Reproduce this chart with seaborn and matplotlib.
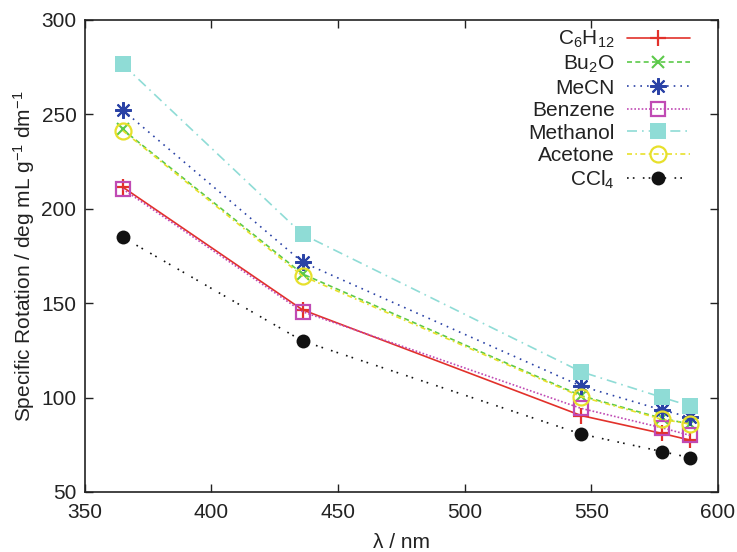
import matplotlib
matplotlib.use("Agg")
import matplotlib.pyplot as plt
import seaborn as sns
import pandas as pd

# Wavelengths (nm) and specific rotation in each solvent
wavelength = [365, 436, 546, 578, 589]
c6h12 = [211.5, 146.5, 90.5, 81.0, 77.5]
bu2o = [242.0, 165.5, 101.0, 89.0, 86.0]
mecn = [252.3, 171.7, 106.1, 93.4, 89.6]
benzene = [210.5, 145.5, 94.3, 84.0, 80.0]
methanol = [276.5, 186.5, 113.7, 100.1, 95.6]
acetone = [241.4, 164.4, 100.5, 88.5, 86.0]
ccl4 = [184.9, 130.0, 80.7, 71.4, 68.2]

labels = ["C$_6$H$_{12}$", "Bu$_2$O", "MeCN", "Benzene", "Methanol", "Acetone", "CCl$_4$"]
series = [c6h12, bu2o, mecn, benzene, methanol, acetone, ccl4]

styles = [
    dict(color="#e2312b", linestyle="-", marker="+", markersize=11, mew=1.6),
    dict(color="#5cc94a", linestyle=(0, (3, 2)), marker="x", markersize=9, mew=1.5),
    dict(color="#2b43a6", linestyle=(0, (1, 3)), marker=(8, 2, 0), markersize=12, mew=1.5),
    dict(color="#c04ab4", linestyle=(0, (1, 1.2)), marker="s", markersize=10.5, mew=1.6,
         markerfacecolor="none"),
    dict(color="#8fdcd6", linestyle=(0, (6, 3, 1, 3)), marker="s", markersize=11, mew=0),
    dict(color="#e7e02b", linestyle=(0, (3, 2, 1, 2)), marker="o", markersize=11.5, mew=1.6,
         markerfacecolor="none"),
    dict(color="#111111", linestyle=(0, (1, 2.5, 1, 5)), marker="o", markersize=10, mew=0),
]

sns.set_theme(style="ticks")
plt.rcParams["font.family"] = ["Liberation Sans", "DejaVu Sans"]
plt.rcParams["mathtext.fontset"] = "custom"
plt.rcParams["mathtext.rm"] = "Liberation Sans"
plt.rcParams["mathtext.it"] = "Liberation Sans:italic"

fig = plt.figure(figsize=(7.37, 5.52), dpi=100)
ax = fig.add_axes([0.115, 0.1087, 0.859, 0.8551])

for lab, vals, st in zip(labels, series, styles):
    df = pd.DataFrame({"wl": wavelength, "rot": vals})
    sns.lineplot(data=df, x="wl", y="rot", ax=ax, label=lab, linewidth=1.2,
                 markeredgecolor=st["color"], **st)

ax.set_xlim(350, 600)
ax.set_ylim(50, 300)
ax.set_xticks([350, 400, 450, 500, 550, 600])
ax.set_yticks([50, 100, 150, 200, 250, 300])
ax.tick_params(direction="in", length=6, width=1, labelsize=15, top=True, right=True,
               colors="#222222")
ax.tick_params(axis="x", pad=8)
ax.tick_params(axis="y", pad=6)
for sp in ax.spines.values():
    sp.set_linewidth(1.2)
    sp.set_color("#222222")

ax.set_xlabel("λ / nm", fontsize=15, color="#222222", labelpad=8)
ax.set_ylabel("Specific Rotation / deg mL g$^{-1}$ dm$^{-1}$", fontsize=15, color="#222222",
              labelpad=3)

leg = ax.legend(loc="upper right", bbox_to_anchor=(0.962, 0.99), frameon=False,
                markerfirst=False, fontsize=15, handlelength=3.0, labelspacing=0.17,
                borderaxespad=0.0, borderpad=0.2, handletextpad=0.6)
for t in leg.get_texts():
    t.set_ha("right")
    t.set_color("#222222")

fig.savefig("out.png", dpi=100)
